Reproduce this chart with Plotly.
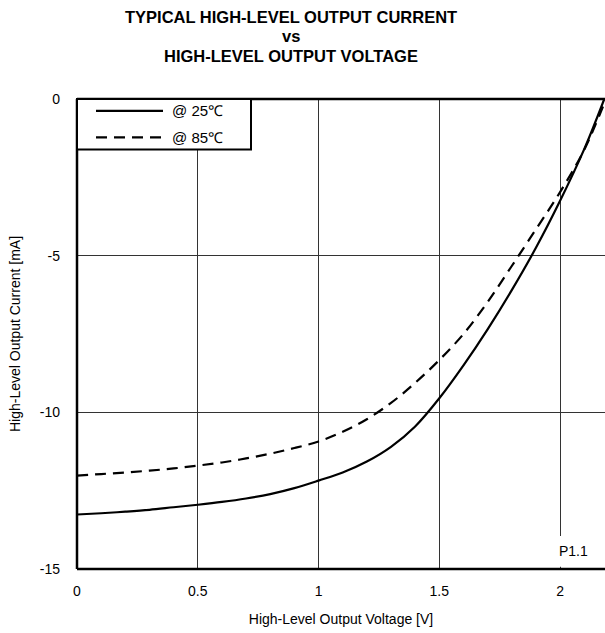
import plotly.graph_objects as go

# Data
v25 = [0.0, 0.1, 0.2, 0.3, 0.4, 0.5, 0.6, 0.7, 0.8, 0.9, 1.0, 1.1, 1.2, 1.3, 1.4, 1.5,
       1.6, 1.7, 1.8, 1.9, 2.0, 2.1, 2.183]
i25 = [-13.26, -13.22, -13.17, -13.11, -13.03, -12.95, -12.86, -12.75, -12.61, -12.42, -12.18,
       -11.92, -11.57, -11.1, -10.45, -9.55, -8.5, -7.35, -6.1, -4.75, -3.25, -1.6, 0.0]
v85 = [0.0, 0.1, 0.2, 0.3, 0.4, 0.5, 0.6, 0.7, 0.8, 0.9, 1.0, 1.1, 1.2, 1.3, 1.4, 1.5,
       1.6, 1.7, 1.8, 1.9, 2.0, 2.1, 2.19]
i85 = [-12.02, -11.97, -11.92, -11.86, -11.79, -11.70, -11.6, -11.47, -11.32, -11.14, -10.93,
       -10.62, -10.22, -9.7, -9.06, -8.33, -7.5, -6.48, -5.33, -4.16, -2.97, -1.62, 0.0]

xticks = [0, 0.5, 1, 1.5, 2]
xticklabels = ["0", "0.5", "1", "1.5", "2"]
yticks = [0, -5, -10, -15]
yticklabels = ["0", "-5", "-10", "-15"]

title_lines = ["TYPICAL HIGH-LEVEL OUTPUT CURRENT", "vs", "HIGH-LEVEL OUTPUT VOLTAGE"]
legend_labels = ["@ 25℃", "@ 85℃"]

FONT = "Arial, Liberation Sans, sans-serif"

fig = go.Figure()
fig.add_trace(go.Scatter(x=v25, y=i25, mode="lines",
                         line=dict(color="black", width=2.2, shape="spline", smoothing=1.0),
                         name=legend_labels[0], showlegend=False))
fig.add_trace(go.Scatter(x=v85, y=i85, mode="lines",
                         line=dict(color="black", width=2.2, dash="11px,7px", shape="spline", smoothing=1.0),
                         name=legend_labels[1], showlegend=False))

W, H = 605, 633
L, R, T, B = 77, 0, 98.5, 63.5

fig.update_layout(
    width=W, height=H,
    margin=dict(l=L, r=R, t=T, b=B),
    paper_bgcolor="white", plot_bgcolor="white",
    font=dict(family=FONT, color="black", size=14),
    xaxis=dict(range=[0, 2.186], tickvals=xticks, ticktext=xticklabels, showgrid=True,
               gridcolor="#333", gridwidth=1, zeroline=False, showline=False, ticks="",
               ticklabelstandoff=12,
               title=dict(text="High-Level Output Voltage [V]", standoff=16, font=dict(size=14))),
    yaxis=dict(range=[-15, 0], tickvals=yticks, ticktext=yticklabels, showgrid=True,
               gridcolor="#333", gridwidth=1, zeroline=False, showline=False, ticks="",
               ticklabelstandoff=16,
               title=dict(text="High-Level Output Current [mA]", standoff=15, font=dict(size=14))),
)

pw = W - L - R
ph = H - T - B
def px(xp):
    return (xp - L) / pw
def py(yp):
    return 1 - (yp - T) / ph

shapes = []
# frame: left, top, bottom (no right edge)
shapes.append(dict(type="line", xref="paper", yref="paper", x0=0, x1=0, y0=0, y1=1, line=dict(color="black", width=2.5)))
shapes.append(dict(type="line", xref="paper", yref="paper", x0=0, x1=1, y0=1, y1=1, line=dict(color="black", width=2.5)))
shapes.append(dict(type="line", xref="paper", yref="paper", x0=0, x1=1, y0=0, y1=0, line=dict(color="black", width=2.5)))

# legend box
shapes.append(dict(type="rect", xref="paper", yref="paper", x0=px(77), x1=px(251), y0=py(149), y1=py(98.5),
                   line=dict(color="black", width=2), fillcolor="white", layer="above"))
shapes.append(dict(type="line", xref="paper", yref="paper", x0=px(96), x1=px(163), y0=py(110.5), y1=py(110.5),
                   line=dict(color="black", width=2.2)))
shapes.append(dict(type="line", xref="paper", yref="paper", x0=px(96), x1=px(163), y0=py(137), y1=py(137),
                   line=dict(color="black", width=2.2, dash="11px,7px")))
# white patch behind P1.1 label
shapes.append(dict(type="rect", xref="x", yref="y", x0=1.985, x1=2.16, y0=-14.93, y1=-13.95,
                   line=dict(width=0), fillcolor="white", layer="above"))
fig.update_layout(shapes=shapes)

ann = []
ys = [16, 35.5, 55]
for t, yy in zip(title_lines, ys):
    ann.append(dict(text=f"<b>{t}</b>", xref="paper", yref="paper", x=px(291), y=py(yy),
                    xanchor="center", yanchor="middle", showarrow=False,
                    font=dict(size=16.5, family=FONT)))
ann.append(dict(text=legend_labels[0], xref="paper", yref="paper", x=px(170), y=py(110.5), xanchor="left", yanchor="middle",
                showarrow=False, font=dict(size=15, family=FONT)))
ann.append(dict(text=legend_labels[1], xref="paper", yref="paper", x=px(170), y=py(137), xanchor="left", yanchor="middle",
                showarrow=False, font=dict(size=15, family=FONT)))
ann.append(dict(text="P1.1", xref="x", yref="y", x=2, y=-14.42, xanchor="left", yanchor="middle", xshift=-3,
                showarrow=False, font=dict(size=14, family=FONT)))
fig.update_layout(annotations=ann)

fig.write_html("out.html")
